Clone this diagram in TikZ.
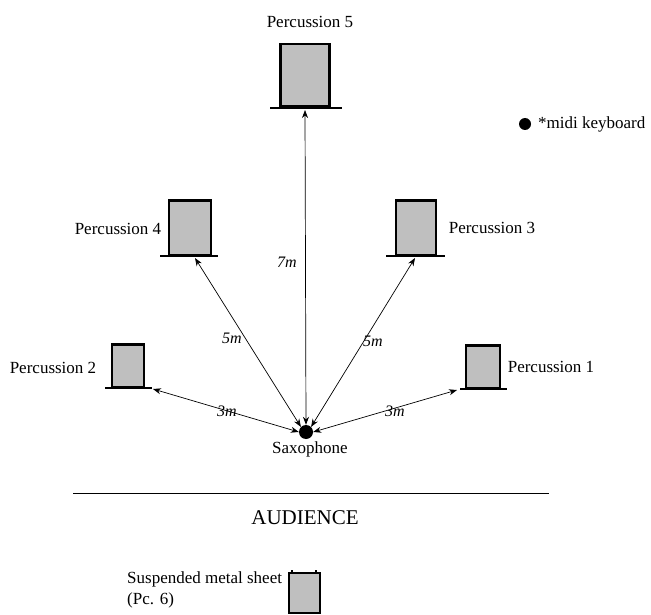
\documentclass[tikz,border=0pt]{standalone}
\usepackage{fontspec}
\setmainfont{Liberation Serif}
\usetikzlibrary{arrows.meta}
\begin{document}
\begin{tikzpicture}[>={Stealth[length=8pt,width=6pt]},x=1pt,y=-1pt,
  every node/.style={font=\fontsize{17}{19}\selectfont},
  instr/.style={draw,fill=black!25,line width=2.6pt,inner sep=0pt},
  foot/.style={line width=2.8pt},
  dist/.style={<->,line width=0.7pt},
  lbl/.style={font=\fontsize{16}{18}\selectfont\itshape}]
  \useasboundingbox (0,0) rectangle (651,615);
  % percussion 5 (back)
  \node[instr,minimum width=49pt,minimum height=62pt] (p5) at (305,75) {};
  \draw[foot] (270,108)--(342,108);
  \coordinate (f5) at (305,110);
  \node (l5) at (310,22) {Percussion 5};
  % percussion 4 and 3
  \node[instr,minimum width=42pt,minimum height=55pt] (p4) at (190,228) {};
  \draw[foot] (160,256)--(218,256);
  \coordinate (f4) at (195,258);
  \node (l4) at (118,229) {Percussion 4};
  \node[instr,minimum width=40pt,minimum height=55pt] (p3) at (416,228) {};
  \draw[foot] (386,256)--(445,256);
  \coordinate (f3) at (415,258);
  \node (l3) at (492,228) {Percussion 3};
  % percussion 2 and 1
  \node[instr,minimum width=32pt,minimum height=43pt] (p2) at (128,366) {};
  \draw[foot] (105,388)--(152,388);
  \coordinate (f2) at (153,389);
  \node (l2) at (53,368) {Percussion 2};
  \node[instr,minimum width=34pt,minimum height=43pt] (p1) at (483,367) {};
  \draw[foot] (460,389)--(507,389);
  \coordinate (f1) at (457,390);
  \node (l1) at (551,367) {Percussion 1};
  % saxophone
  \node[circle,fill=black,minimum size=14pt,inner sep=0pt] (sax) at (306,432) {};
  \node (lsax) at (310,449) {Saxophone};
  % distances
  \draw[dist] (f5)--(sax.north);
  \draw[dist] (f4)--(sax.north west);
  \draw[dist] (f3)--(sax.north east);
  \draw[dist] (f2)--(sax.west);
  \draw[dist] (f1)--(sax.east);
  \node[lbl] at (287,262) {7m};
  \node[lbl] at (232,338) {5m};
  \node[lbl] at (373,341) {5m};
  \node[lbl] at (227,411) {3m};
  \node[lbl] at (395,411) {3m};
  % midi keyboard
  \node[circle,fill=black,minimum size=12pt,inner sep=0pt] (kb) at (525,124) {};
  \node[anchor=west,inner sep=0pt] (lkb) at (538,124) {*midi keyboard};
  % audience
  \draw (73,493)--(549,493);
  \node[font=\fontsize{21}{23}\selectfont] (aud) at (305,518) {AUDIENCE};
  % suspended sheet
  \node[instr,line width=2pt,minimum width=31pt,minimum height=40pt] (p6) at (304,593) {};
  \draw[line width=1.5pt] (292,570)--(292,574) (316,570)--(316,574);
  \node[align=left,anchor=north west,inner sep=0pt,font=\fontsize{17}{21}\selectfont] (l6) at (127,572) {Suspended metal sheet\\(Pc. 6)};
\end{tikzpicture}
\end{document}
